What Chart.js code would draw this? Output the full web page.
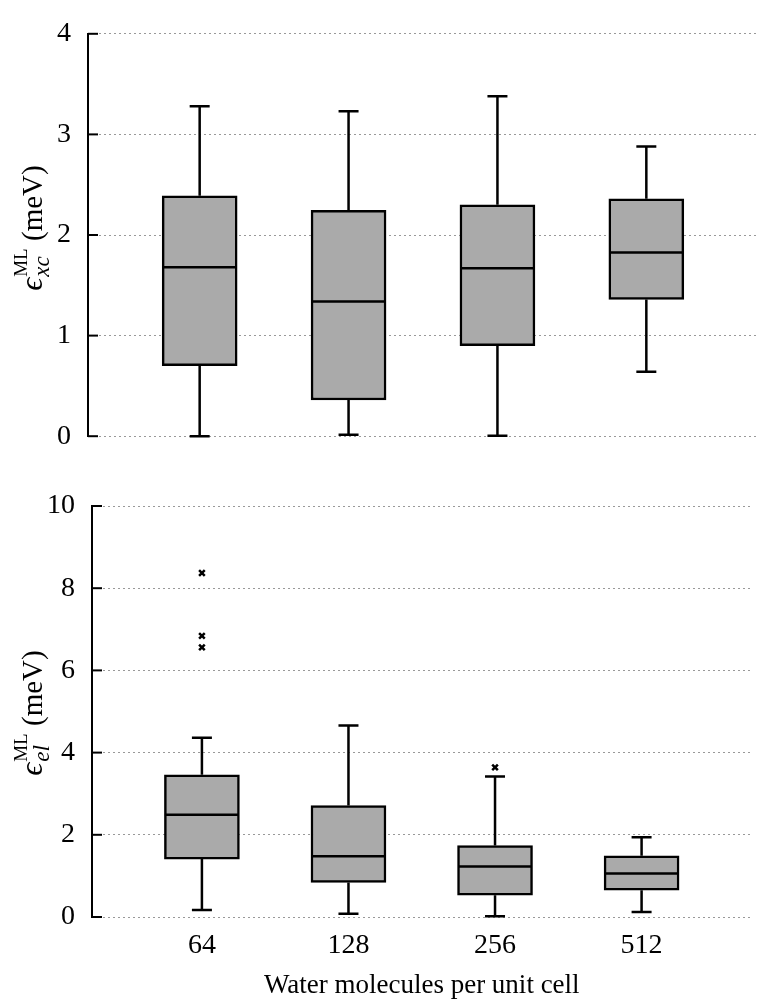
<!DOCTYPE html>
<html>
<head>
<meta charset="utf-8">
<script src="https://cdn.jsdelivr.net/npm/chart.js@4.4.1/dist/chart.umd.min.js"></script>
<style>
  body { margin: 0; background: #fff; }
  canvas { display: block; }
</style>
</head>
<body>
<canvas id="top" width="758" height="470"></canvas>
<canvas id="bottom" width="758" height="536"></canvas>
<script>
// --------------------------------------------------
// data
const categories = ["64", "128", "256", "512"];
const positions = [1, 2, 3, 4];

// exchange-correlation error (meV)
const xcLow = [0.0, 0.015, 0.005, 0.64];
const xcQ1 = [0.70, 0.36, 0.90, 1.36];
const xcMedian = [1.68, 1.34, 1.67, 1.825];
const xcQ3 = [2.39, 2.245, 2.30, 2.36];
const xcHigh = [3.28, 3.23, 3.38, 2.88];
const xcTicks = [0, 1, 2, 3, 4];

// electrostatic error (meV)
const elLow = [0.17, 0.08, 0.02, 0.12];
const elQ1 = [1.41, 0.84, 0.53, 0.65];
const elMedian = [2.49, 1.48, 1.23, 1.06];
const elQ3 = [3.46, 2.71, 1.74, 1.49];
const elHigh = [4.36, 4.66, 3.42, 1.94];
const elOutliers = [[8.37, 6.84, 6.56], [], [3.64], []];
const elTicks = [0, 2, 4, 6, 8, 10];

// --------------------------------------------------
const SERIF = "'Liberation Serif', 'DejaVu Serif', serif";

// whiskers, caps and median lines, drawn through the chart scales
const whiskerPlugin = {
  id: "whiskers",
  afterDatasetsDraw(chart) {
    const s = chart.options.plugins.whiskers;
    const x = chart.scales.x;
    const y = chart.scales.y;
    const ctx = chart.ctx;
    ctx.save();
    ctx.strokeStyle = "#000";
    ctx.lineWidth = 2.5;
    ctx.lineCap = "butt";
    s.med.forEach((m, i) => {
      const cx = x.getPixelForValue(positions[i]);
      const half = 37;
      const cap = 10;
      const yl = y.getPixelForValue(s.low[i]);
      const yq1 = y.getPixelForValue(s.q1[i]);
      const yq3 = y.getPixelForValue(s.q3[i]);
      const yh = y.getPixelForValue(s.high[i]);
      const ym = y.getPixelForValue(m);
      ctx.beginPath();
      ctx.moveTo(cx, yq3); ctx.lineTo(cx, yh);
      ctx.moveTo(cx - cap, yh); ctx.lineTo(cx + cap, yh);
      ctx.moveTo(cx, yq1); ctx.lineTo(cx, yl);
      ctx.moveTo(cx - cap, yl); ctx.lineTo(cx + cap, yl);
      ctx.moveTo(cx - half, ym); ctx.lineTo(cx + half, ym);
      ctx.stroke();
    });
    ctx.restore();
  },
  afterDraw(chart) {
    // inward tick marks on the left axis
    const y = chart.scales.y;
    const left = chart.chartArea.left;
    const ctx = chart.ctx;
    ctx.save();
    ctx.strokeStyle = "#000";
    ctx.lineWidth = 2;
    y.ticks.forEach((t) => {
      const py = y.getPixelForValue(t.value);
      ctx.beginPath();
      ctx.moveTo(left, py);
      ctx.lineTo(left + 10, py);
      ctx.stroke();
    });
    ctx.restore();

    // y label: epsilon with subscript and superscript, rotated
    const lab = chart.options.plugins.whiskers.label;
    const parts = [
      { t: "\u03f5", f: "italic 32px " + SERIF },
      { t: lab.sub, f: "italic 23px " + SERIF },
      { t: "ML", f: "19px " + SERIF },
      { t: " (meV)", f: "29px " + SERIF },
    ];
    ctx.save();
    const widths = parts.map((p) => {
      ctx.font = p.f;
      return ctx.measureText(p.t).width;
    });
    // sub and superscript share the same column
    const total = widths[0] + 1 + Math.max(widths[1], widths[2]) + widths[3];
    ctx.translate(lab.x, lab.y);
    ctx.rotate(-Math.PI / 2);
    ctx.fillStyle = "#000";
    ctx.textBaseline = "alphabetic";
    const base = 10;
    let px = -total / 2;
    ctx.font = parts[0].f; ctx.fillText(parts[0].t, px, base); px += widths[0] + 1;
    ctx.font = parts[1].f; ctx.fillText(parts[1].t, px, base + 7);
    ctx.font = parts[2].f; ctx.fillText(parts[2].t, px, base - 15);
    px += Math.max(widths[1], widths[2]);
    ctx.font = parts[3].f; ctx.fillText(parts[3].t, px, base);
    ctx.restore();
  },
};

function makeChart(id, cfg) {
  const boxes = positions.map((p, i) => ({ x: p, y: [cfg.q1[i], cfg.q3[i]] }));
  const outliers = [];
  (cfg.outliers || []).forEach((list, i) => {
    list.forEach((v) => outliers.push({ x: positions[i], y: v }));
  });

  return new Chart(document.getElementById(id), {
    type: "bar",
    data: {
      datasets: [
        {
          data: boxes,
          backgroundColor: "#aaaaaa",
          borderColor: "#000",
          borderWidth: 2.5,
          borderSkipped: false,
          barThickness: 75,
        },
        {
          type: "scatter",
          data: outliers,
          pointStyle: "crossRot",
          radius: 4,
          borderWidth: 2.5,
          borderColor: "#000",
        },
      ],
    },
    options: {
      responsive: false,
      animation: false,
      devicePixelRatio: 1,
      layout: { padding: { top: cfg.padTop, right: 0, left: 0, bottom: 0 } },
      plugins: {
        legend: { display: false },
        tooltip: { enabled: false },
        whiskers: {
          low: cfg.low, q1: cfg.q1, med: cfg.med, q3: cfg.q3, high: cfg.high,
          label: cfg.label,
        },
      },
      scales: {
        x: {
          type: "linear",
          min: 0.25,
          max: 4.75,
          offset: false,
          grid: { display: false },
          border: { display: false },
          afterBuildTicks: (scale) => {
            scale.ticks = positions.map((v) => ({ value: v }));
          },
          afterFit: (scale) => { scale.height = cfg.xHeight; },
          ticks: {
            display: cfg.showX,
            color: "#000",
            padding: 4,
            font: { family: SERIF, size: 28 },
            callback: (v) => categories[positions.indexOf(v)] || "",
          },
          title: {
            display: cfg.showX,
            text: "Water molecules per unit cell",
            color: "#000",
            font: { family: SERIF, size: 27 },
            padding: { top: 4, bottom: 4 },
          },
        },
        y: {
          min: 0,
          max: cfg.yTicks[cfg.yTicks.length - 1],
          afterBuildTicks: (scale) => {
            scale.ticks = cfg.yTicks.map((v) => ({ value: v }));
          },
          afterFit: (scale) => { scale.width = cfg.yWidth; },
          grid: { color: "#999", lineWidth: 1, drawTicks: false },
          border: { display: true, color: "#000", width: 2, dash: [2, 3] },
          ticks: {
            color: "#000",
            padding: 17,
            font: { family: SERIF, size: 28 },
          },
        },
      },
    },
    plugins: [whiskerPlugin],
  });
}

// --------------------------------------------------
makeChart("top", {
  low: xcLow, q1: xcQ1, med: xcMedian, q3: xcQ3, high: xcHigh,
  yTicks: xcTicks,
  padTop: 12,
  xHeight: 23,
  yWidth: 88,
  showX: false,
  label: { x: 32, y: 228, sub: "xc" },
});

makeChart("bottom", {
  low: elLow, q1: elQ1, med: elMedian, q3: elQ3, high: elHigh,
  outliers: elOutliers,
  yTicks: elTicks,
  padTop: 36,
  xHeight: 89,
  yWidth: 92,
  showX: true,
  label: { x: 32, y: 243, sub: "el" },
});
</script>
</body>
</html>
